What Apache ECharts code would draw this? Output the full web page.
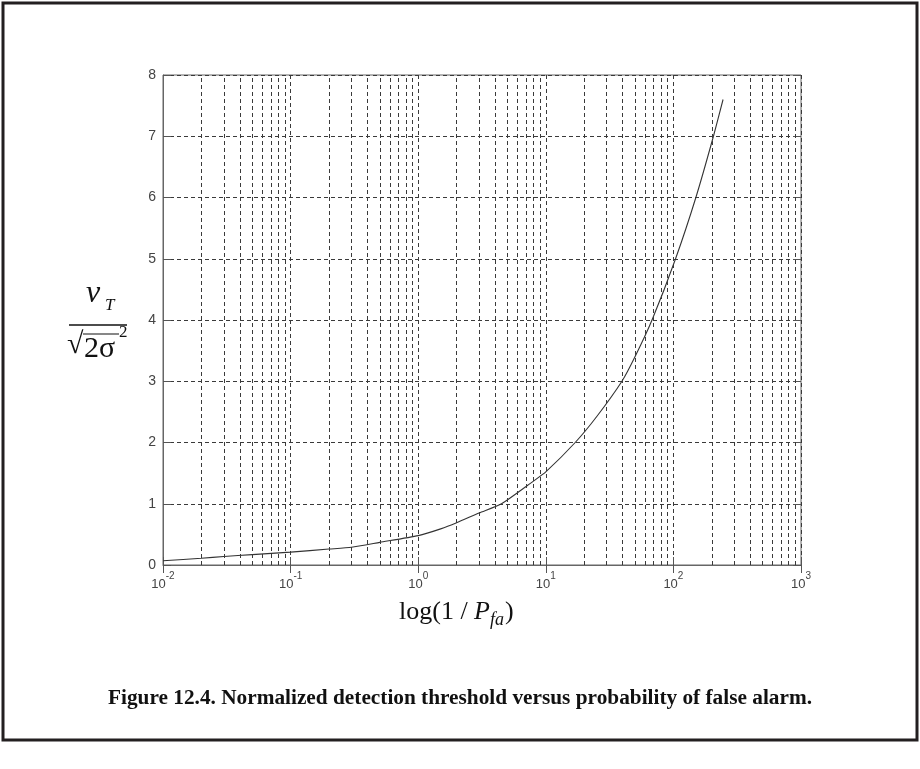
<!DOCTYPE html>
<html>
<head>
<meta charset="utf-8">
<title>Normalized detection threshold</title>
<script src="https://cdn.jsdelivr.net/npm/echarts@6/dist/echarts.min.js"></script>
<style>
  html, body { margin: 0; padding: 0; background: #fff; }
  #chart { width: 920px; height: 769px; }
</style>
</head>
<body>
<div id="chart"></div>
<script>
// Threshold curve: x = log(1/Pfa), y = vT / sqrt(2 sigma^2)
const pfaValues = [0.01, 0.02, 0.03, 0.05, 0.1, 0.2, 0.3, 0.5, 1, 1.5, 2, 3, 4.5, 8, 10, 17, 25, 39.5, 50, 68, 104, 150, 206, 245];
const thresholdValues = [0.07, 0.11, 0.14, 0.17, 0.21, 0.26, 0.29, 0.37, 0.48, 0.59, 0.69, 0.85, 1.0, 1.37, 1.52, 2.0, 2.42, 3.0, 3.4, 4.0, 5.0, 6.0, 7.0, 7.6];

// Decade exponents used for the x tick labels and the minor grid
const decadeExponents = [-2, -1, 0, 1, 2, 3];
const minorSteps = [2, 3, 4, 5, 6, 7, 8, 9];
const yTickValues = [0, 1, 2, 3, 4, 5, 6, 7, 8];

const GRID = { left: 163, right: 119, top: 75, bottom: 204 };
const GRID_COLOR = '#3a3a3a';
const DASH = [4, 3];
const SERIF = '"Liberation Serif", "Times New Roman", serif';

const minorGrid = [];
decadeExponents.slice(0, -1).forEach(function (e) {
  minorSteps.forEach(function (m) {
    minorGrid.push({ xAxis: m * Math.pow(10, e) });
  });
});

const chart = echarts.init(document.getElementById('chart'), null, { renderer: 'canvas' });

const tickFont = { fontFamily: 'Liberation Sans, Arial, sans-serif', color: '#444' };

chart.setOption({
  backgroundColor: '#fff',
  animation: false,
  grid: Object.assign({ show: true, borderColor: '#666', borderWidth: 1, backgroundColor: 'transparent' }, GRID),
  xAxis: [{
    type: 'log',
    logBase: 10,
    min: 0.01,
    max: 1000,
    axisLine: { show: true, lineStyle: { color: '#666', width: 1 } },
    axisTick: { show: true, inside: true, length: 8, lineStyle: { color: '#555' } },
    splitLine: { show: true, lineStyle: { color: GRID_COLOR, type: DASH, width: 1 } },
    axisLabel: {
      margin: 6,
      formatter: function (v) {
        const e = Math.round(Math.log10(v));
        return '{b|10}{s|' + e + '}';
      },
      rich: {
        b: Object.assign({ fontSize: 13, lineHeight: 20, verticalAlign: 'bottom' }, tickFont),
        s: Object.assign({ fontSize: 10, lineHeight: 20, verticalAlign: 'top' }, tickFont)
      }
    }
  }, {
    type: 'log',
    logBase: 10,
    min: 0.01,
    max: 1000,
    position: 'top',
    axisLine: { show: false },
    axisTick: { show: true, inside: true, length: 8, lineStyle: { color: '#555' } },
    axisLabel: { show: false },
    splitLine: { show: false }
  }],
  yAxis: [{
    type: 'value',
    min: yTickValues[0],
    max: yTickValues[yTickValues.length - 1],
    interval: 1,
    axisLine: { show: true, lineStyle: { color: '#666', width: 1 } },
    axisTick: { show: true, inside: true, length: 8, lineStyle: { color: '#555' } },
    splitLine: { show: true, lineStyle: { color: GRID_COLOR, type: DASH, width: 1 } },
    axisLabel: Object.assign({ fontSize: 14, margin: 7 }, tickFont)
  }, {
    type: 'value',
    min: yTickValues[0],
    max: yTickValues[yTickValues.length - 1],
    interval: 1,
    position: 'right',
    axisLine: { show: false },
    axisTick: { show: true, inside: true, length: 8, lineStyle: { color: '#555' } },
    axisLabel: { show: false },
    splitLine: { show: false }
  }],
  series: [{
    type: 'line',
    xAxisIndex: 0,
    yAxisIndex: 0,
    data: pfaValues.map(function (x, i) { return [x, thresholdValues[i]]; }),
    smooth: 0.2,
    showSymbol: false,
    lineStyle: { color: '#333', width: 1.1 },
    markLine: {
      silent: true,
      symbol: ['none', 'none'],
      label: { show: false },
      lineStyle: { color: GRID_COLOR, type: DASH, width: 1 },
      data: minorGrid
    },
    z: 3
  }],
  graphic: [
    // outer frame
    { type: 'rect', shape: { x: 3, y: 3, width: 914, height: 737 }, style: { fill: 'none', stroke: '#231f20', lineWidth: 3 }, silent: true },
    // y-axis label: vT / sqrt(2 sigma^2)
    { type: 'text', left: 86, top: 278, style: { text: 'v', font: 'italic 32px ' + SERIF, fill: '#111' } },
    { type: 'text', left: 105, top: 297, style: { text: 'T', font: 'italic 17px ' + SERIF, fill: '#111' } },
    { type: 'line', shape: { x1: 69, y1: 325, x2: 127, y2: 325 }, style: { stroke: '#111', lineWidth: 1.6 } },
    { type: 'text', left: 67, top: 330, style: { text: '\u221A', font: '30px ' + SERIF, fill: '#111' } },
    { type: 'line', shape: { x1: 83, y1: 334, x2: 119, y2: 334 }, style: { stroke: '#111', lineWidth: 1.2 } },
    { type: 'text', left: 84, top: 334, style: { text: '2\u03C3', font: '30px ' + SERIF, fill: '#111' } },
    { type: 'text', left: 119, top: 324, style: { text: '2', font: '17px ' + SERIF, fill: '#111' } },
    // x-axis title: log(1/Pfa)
    {
      type: 'text', left: 399, top: 599,
      style: {
        text: '{n|log(1 / }{i|P}{s|fa}{n|)}',
        rich: {
          n: { font: '26px ' + SERIF, fill: '#111', lineHeight: 30, verticalAlign: 'top' },
          i: { font: 'italic 26px ' + SERIF, fill: '#111', lineHeight: 30, verticalAlign: 'top' },
          s: { font: 'italic 18px ' + SERIF, fill: '#111', lineHeight: 30, verticalAlign: 'bottom', padding: [0, 1, 0, 0] }
        }
      }
    },
    // caption
    {
      type: 'text', left: 'center', top: 688,
      style: { text: 'Figure 12.4. Normalized detection threshold versus probability of false alarm.', font: 'bold 21.3px ' + SERIF, fill: '#111' }
    }
  ]
});
</script>
</body>
</html>
